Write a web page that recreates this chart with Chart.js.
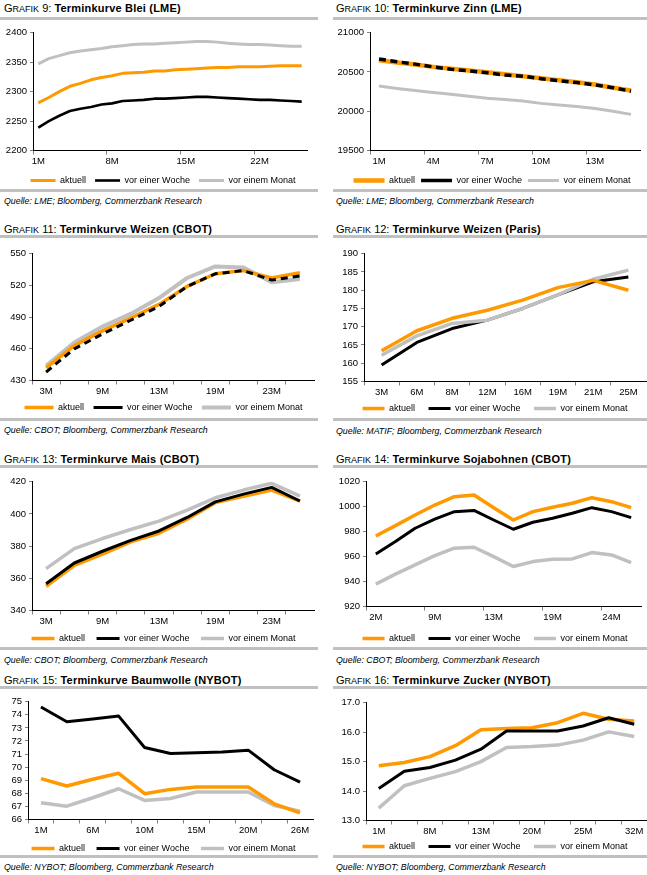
<!DOCTYPE html>
<html><head><meta charset="utf-8">
<script src="https://cdn.jsdelivr.net/npm/chart.js@4.4.1/dist/chart.umd.min.js"></script>
<style>
html,body{margin:0;padding:0;background:#fff}
body{position:relative;width:647px;height:875px;overflow:hidden;font-family:"Liberation Sans",Arial,sans-serif;color:#000}
.t{position:absolute;font-size:11px;line-height:11px;white-space:nowrap}
.t .s{font-size:9px}
.t b{font-weight:bold;letter-spacing:0.2px}
.bar{position:absolute;height:3px;background:#c0c0c0}
.src{position:absolute;font-size:8.8px;line-height:8.8px;font-style:italic;white-space:nowrap}
canvas{position:absolute}
</style></head><body>

<div class="t" style="left:4px;top:2.6px">G<span class="s">RAFIK</span> 9: <b>Terminkurve Blei (LME)</b></div>
<div class="bar" style="left:0;top:17px;width:318px"></div>
<div class="bar" style="left:0;top:189px;width:318px"></div>
<div class="src" style="left:4px;top:197.2px">Quelle: LME; Bloomberg, Commerzbank Research</div>

<div class="t" style="left:336px;top:2.6px">G<span class="s">RAFIK</span> 10: <b>Terminkurve Zinn (LME)</b></div>
<div class="bar" style="left:333px;top:17px;width:314px"></div>
<div class="bar" style="left:333px;top:189px;width:314px"></div>
<div class="src" style="left:336px;top:197.2px">Quelle: LME; Bloomberg, Commerzbank Research</div>

<div class="t" style="left:4px;top:223.6px">G<span class="s">RAFIK</span> 11: <b>Terminkurve Weizen (CBOT)</b></div>
<div class="bar" style="left:0;top:234.5px;width:318px"></div>
<div class="bar" style="left:0;top:418px;width:318px"></div>
<div class="src" style="left:4px;top:426.3px">Quelle: CBOT; Bloomberg, Commerzbank Research</div>

<div class="t" style="left:336px;top:223.6px">G<span class="s">RAFIK</span> 12: <b>Terminkurve Weizen (Paris)</b></div>
<div class="bar" style="left:333px;top:235px;width:314px"></div>
<div class="bar" style="left:333px;top:418px;width:314px"></div>
<div class="src" style="left:336px;top:426.7px">Quelle: MATIF; Bloomberg, Commerzbank Research</div>

<div class="t" style="left:4px;top:454.1px">G<span class="s">RAFIK</span> 13: <b>Terminkurve Mais (CBOT)</b></div>
<div class="bar" style="left:0;top:465px;width:318px"></div>
<div class="bar" style="left:0;top:647px;width:318px"></div>
<div class="src" style="left:4px;top:655.7px">Quelle: CBOT; Bloomberg, Commerzbank Research</div>

<div class="t" style="left:336px;top:454.1px">G<span class="s">RAFIK</span> 14: <b>Terminkurve Sojabohnen (CBOT)</b></div>
<div class="bar" style="left:333px;top:465px;width:314px"></div>
<div class="bar" style="left:333px;top:647px;width:314px"></div>
<div class="src" style="left:336px;top:655.7px">Quelle: CBOT; Bloomberg, Commerzbank Research</div>

<div class="t" style="left:4px;top:674.6px">G<span class="s">RAFIK</span> 15: <b>Terminkurve Baumwolle (NYBOT)</b></div>
<div class="bar" style="left:0;top:686px;width:318px"></div>
<div class="bar" style="left:0;top:855px;width:318px"></div>
<div class="src" style="left:4px;top:862.7px">Quelle: NYBOT; Bloomberg, Commerzbank Research</div>

<div class="t" style="left:336px;top:674.6px">G<span class="s">RAFIK</span> 16: <b>Terminkurve Zucker (NYBOT)</b></div>
<div class="bar" style="left:333px;top:686px;width:314px"></div>
<div class="bar" style="left:333px;top:855px;width:314px"></div>
<div class="src" style="left:336px;top:862.7px">Quelle: NYBOT; Bloomberg, Commerzbank Research</div>

<script>
// ---------- DATA ----------
const seriesNames = ['aktuell', 'vor einer Woche', 'vor einem Monat'];

// GRAFIK 9: Blei (LME)
const bleiLabels = ['1M','2M','3M','4M','5M','6M','7M','8M','9M','10M','11M','12M','13M','14M','15M','16M','17M','18M','19M','20M','21M','22M','23M','24M','25M','26M'];
const bleiAktuell = [2281,2290,2300,2309,2314,2320,2324,2327,2331,2332,2333,2335,2335,2337,2338,2339,2340,2341,2341,2342,2342,2342,2343,2344,2344,2344];
const bleiWoche   = [2239,2250,2259,2267,2271,2274,2278,2280,2284,2285,2286,2288,2288,2289,2290,2291,2291,2290,2289,2288,2287,2286,2286,2285,2284,2283];
const bleiMonat   = [2347,2356,2361,2366,2369,2371,2373,2376,2378,2380,2381,2381,2382,2383,2384,2385,2385,2384,2382,2381,2380,2380,2379,2378,2377,2377];
const bleiYTicks  = [2200,2250,2300,2350,2400];

// GRAFIK 10: Zinn (LME)
const zinnLabels  = ['1M','2M','3M','4M','5M','6M','7M','8M','9M','10M','11M','12M','13M','14M','15M'];
const zinnAktuell = [20650,20620,20595,20565,20540,20520,20495,20470,20445,20420,20395,20370,20340,20300,20265];
const zinnWoche   = [20665,20630,20600,20565,20535,20515,20490,20460,20445,20415,20390,20365,20335,20300,20255];
const zinnMonat   = [20320,20290,20265,20240,20215,20190,20165,20150,20130,20100,20080,20060,20035,20000,19960];
const zinnYTicks  = [19500,20000,20500,21000];

// GRAFIK 11: Weizen (CBOT)
const weizenLabels  = ['3M','6M','9M','11M','13M','16M','19M','21M','23M','25M'];
const weizenAktuell = [442,463,477,489,502,519,531,534,527,532];
const weizenWoche   = [438,460,474,487,500,519,531,534,525,529];
const weizenMonat   = [444,466,481,493,508,527,538,537,523,526];
const weizenYTicks  = [430,460,490,520,550];

// GRAFIK 12: Weizen (Paris)
const parisLabels  = ['3M','6M','8M','12M','16M','19M','21M','25M'];
const parisAktuell = [163.4,168.9,172.3,174.5,177.3,180.7,182.7,180.0];
const parisWoche   = [159.5,165.7,169.5,171.8,175.0,178.7,182.3,183.6];
const parisMonat   = [162.2,167.5,170.9,171.8,175.0,178.7,183.0,185.5];
const parisYTicks  = [155,160,165,170,175,180,185,190];

// GRAFIK 13: Mais (CBOT)
const maisLabels  = ['3M','6M','9M','11M','13M','16M','19M','21M','23M','25M'];
const maisAktuell = [355,368,375,382.6,388,396.7,407,411,414.8,408];
const maisWoche   = [356.6,369.5,376.8,383.6,389.4,397.8,407.5,412.3,416.5,408];
const maisMonat   = [366,378.4,384.7,390.3,395.5,402.3,410,414.8,419,411];
const maisYTicks  = [340,360,380,400,420];

// GRAFIK 14: Sojabohnen (CBOT)
const sojaLabels  = ['2M','4M','6M','9M','10M','12M','13M','15M','17M','19M','21M','22M','24M','26M'];
const sojaAktuell = [976.5,984.8,993.3,1001.3,1008,1009.3,999.2,989.3,996,999.5,1002.7,1007.2,1004,999.2];
const sojaWoche   = [962,972,982.7,990,996,997,989.3,981.9,987.5,990.7,994.7,999.2,996,991.2];
const sojaMonat   = [937.9,945.9,953.3,960.8,966.7,967.5,960,952,956,957.9,958.1,963.2,961.3,955.2];
const sojaYTicks  = [920,940,960,980,1000,1020];

// GRAFIK 15: Baumwolle (NYBOT)
const baumLabels  = ['1M','3M','6M','8M','10M','13M','15M','18M','20M','22M','26M'];
const baumAktuell = [69.12,68.56,69.07,69.53,67.97,68.3,68.48,68.48,68.48,67.2,66.5];
const baumWoche   = [74.6,73.47,73.67,73.9,71.5,71.04,71.1,71.16,71.3,69.8,68.86];
const baumMonat   = [67.28,67.02,67.66,68.35,67.46,67.6,68.1,68.1,68.1,67.07,66.64];
const baumYTicks  = [66,67,68,69,70,71,72,73,74,75];

// GRAFIK 16: Zucker (NYBOT)
const zuckerLabels  = ['1M','5M','8M','10M','13M','17M','20M','22M','25M','29M','32M'];
const zuckerAktuell = [14.86,14.97,15.17,15.54,16.08,16.12,16.15,16.32,16.64,16.44,16.38];
const zuckerWoche   = [14.09,14.67,14.8,15.05,15.42,16.04,16.04,16.04,16.21,16.49,16.27];
const zuckerMonat   = [13.42,14.18,14.43,14.66,15.0,15.48,15.51,15.56,15.73,16.01,15.85];
const zuckerYTicks  = [13.0,14.0,15.0,16.0,17.0];

// ---------- STYLE / LAYOUT ----------
const ORANGE = '#ff9900', BLACK = '#000000', GRAY = '#c0c0c0';
const FONT = '"Liberation Sans", Arial, sans-serif';
Chart.defaults.font.family = FONT;
Chart.defaults.color = '#000';

const panels = [
  {labels:bleiLabels, data:[bleiAktuell,bleiWoche,bleiMonat], yTicks:bleiYTicks, every:7, tickEvery:7, dec:0,
   geo:{cx:0,cw:326,L:33,R:307,T:32,B:150,LY:180,boxW:25,p:4,sp:2}, w:[3,2.6,3], dash:null, order:[1,0,2]},
  {labels:zinnLabels, data:[zinnAktuell,zinnWoche,zinnMonat], yTicks:zinnYTicks, every:3, tickEvery:3, dec:0,
   geo:{cx:333,cw:318,L:370,R:640,T:32,B:150,LY:180,boxW:31,p:3.5,sp:1}, w:[4.5,3.5,3], dash:[7,4.5], order:[1,0,2]},
  {labels:weizenLabels, data:[weizenAktuell,weizenWoche,weizenMonat], yTicks:weizenYTicks, every:2, tickEvery:1, dec:0,
   geo:{cx:0,cw:327,L:32,R:314,T:253,B:380,LY:407,boxW:29,p:4.5,sp:2}, w:[3.5,3,4], dash:[7,5], order:[1,0,2]},
  {labels:parisLabels, data:[parisAktuell,parisWoche,parisMonat], yTicks:parisYTicks, every:1, tickEvery:1, dec:0,
   geo:{cx:333,cw:324,L:364,R:646,T:253,B:381,LY:408,boxW:22,p:3.5,sp:4}, w:[3.5,3,3.5], dash:null, order:[0,2,1]},
  {labels:maisLabels, data:[maisAktuell,maisWoche,maisMonat], yTicks:maisYTicks, every:2, tickEvery:1, dec:0,
   geo:{cx:0,cw:327,L:32,R:314,T:481,B:610,LY:638,boxW:23,p:4,sp:3}, w:[3.5,3,3.5], dash:null, order:[1,0,2]},
  {labels:sojaLabels, data:[sojaAktuell,sojaWoche,sojaMonat], yTicks:sojaYTicks, every:3, tickEvery:3, dec:0,
   geo:{cx:333,cw:324,L:366,R:641,T:481,B:606,LY:638,boxW:22,p:3.5,sp:4}, w:[3.5,3,3.5], dash:null, order:[1,0,2]},
  {labels:baumLabels, data:[baumAktuell,baumWoche,baumMonat], yTicks:baumYTicks, every:2, tickEvery:1, dec:0,
   geo:{cx:0,cw:327,L:28,R:313,T:701,B:819,LY:848,boxW:23,p:4,sp:3}, w:[3.5,3,3.5], dash:null, order:[1,0,2]},
  {labels:zuckerLabels, data:[zuckerAktuell,zuckerWoche,zuckerMonat], yTicks:zuckerYTicks, every:2, tickEvery:1, dec:1,
   geo:{cx:333,cw:324,L:366,R:647,T:702,B:820,LY:846,boxW:22,p:3.5,sp:4}, w:[3.5,3,3.5], dash:null, order:[1,0,2]},
];

function makeChart(sp, top, H, xH) {
  const g = sp.geo;
  const cv = document.createElement('canvas');
  cv.width = g.cw; cv.height = H;
  cv.style.left = g.cx + 'px'; cv.style.top = top + 'px';
  cv.style.width = g.cw + 'px'; cv.style.height = H + 'px';
  document.body.appendChild(cv);
  const colors = [ORANGE, BLACK, GRAY];
  const ds = sp.data.map((d, k) => ({
    label: seriesNames[k], data: d, borderColor: colors[k], backgroundColor: colors[k],
    borderWidth: sp.w[k], borderDash: (k === 1 && sp.dash) ? sp.dash : [],
    order: sp.order[k], pointRadius: 0, tension: 0, fill: false,
    borderJoinStyle: 'round', borderCapStyle: 'butt'
  }));
  const yt = sp.yTicks;
  return new Chart(cv, {
    type: 'line',
    data: {labels: sp.labels, datasets: ds},
    options: {
      responsive: false, animation: false, devicePixelRatio: 1,
      layout: {padding: {top: 8, left: 0, right: 0, bottom: 0}},
      plugins: {
        legend: {position: 'bottom', labels: {
          usePointStyle: true, pointStyle: 'line', pointStyleWidth: g.boxW,
          font: {size: 9, family: FONT}, color: '#000', padding: g.p,
          generateLabels: chart => {
            const items = Chart.defaults.plugins.legend.labels.generateLabels(chart)
              .sort((a, b) => a.datasetIndex - b.datasetIndex);
            items.forEach((it, i) => { if (i < items.length - 1) it.text += ' '.repeat(g.sp); });
            return items;
          },
          sort: (a, b) => a.datasetIndex - b.datasetIndex}},
        tooltip: {enabled: false}
      },
      scales: {
        x: {
          offset: true,
          grid: {offset: true, drawOnChartArea: false, drawTicks: true, tickLength: 4,
                 color: c => (c.index !== undefined && c.index % sp.tickEvery === 0) ? '#808080' : 'rgba(0,0,0,0)'},
          border: {display: true, color: '#000', width: 1},
          ticks: {autoSkip: false, maxRotation: 0, minRotation: 0, padding: 1, font: {size: 9.5}, color: '#000',
                  callback: (v, i) => (i % sp.every === 0) ? sp.labels[i] : ''},
          afterFit: s => { s.height = xH; }
        },
        y: {
          min: yt[0], max: yt[yt.length - 1],
          ticks: {stepSize: yt[1] - yt[0], autoSkip: false, padding: 3, font: {size: 9.5}, color: '#000',
                  callback: v => sp.dec ? Number(v).toFixed(sp.dec) : String(v)},
          grid: {drawOnChartArea: false, tickLength: 3, color: '#808080'},
          border: {display: true, color: '#000', width: 1},
          afterFit: s => { s.width = g.L - g.cx; }
        },
        yR: {
          position: 'right', display: true,
          grid: {display: false, drawTicks: false}, border: {display: false}, ticks: {display: false},
          afterFit: s => { s.width = g.cx + g.cw - g.R; }
        }
      }
    }
  });
}

panels.forEach(sp => {
  const g = sp.geo;
  const top = g.T - 8;
  let H = Math.round(g.LY + 4.5 + g.p + 12 - top);
  let xH = (g.LY - 4.5 - g.p) - g.B;
  let ch = makeChart(sp, top, H, xH);
  const legH = ch.legend.height;
  const off = ch.legend.legendHitBoxes[0].top - ch.legend.top;
  const ih = ch.legend.legendHitBoxes[0].height;
  ch.canvas.remove(); ch.destroy();
  const legTop = g.LY - ih / 2 - off;
  xH = legTop - g.B;
  H = Math.round(legTop + legH - top);
  makeChart(sp, top, H, xH);
});
</script>
</body></html>
